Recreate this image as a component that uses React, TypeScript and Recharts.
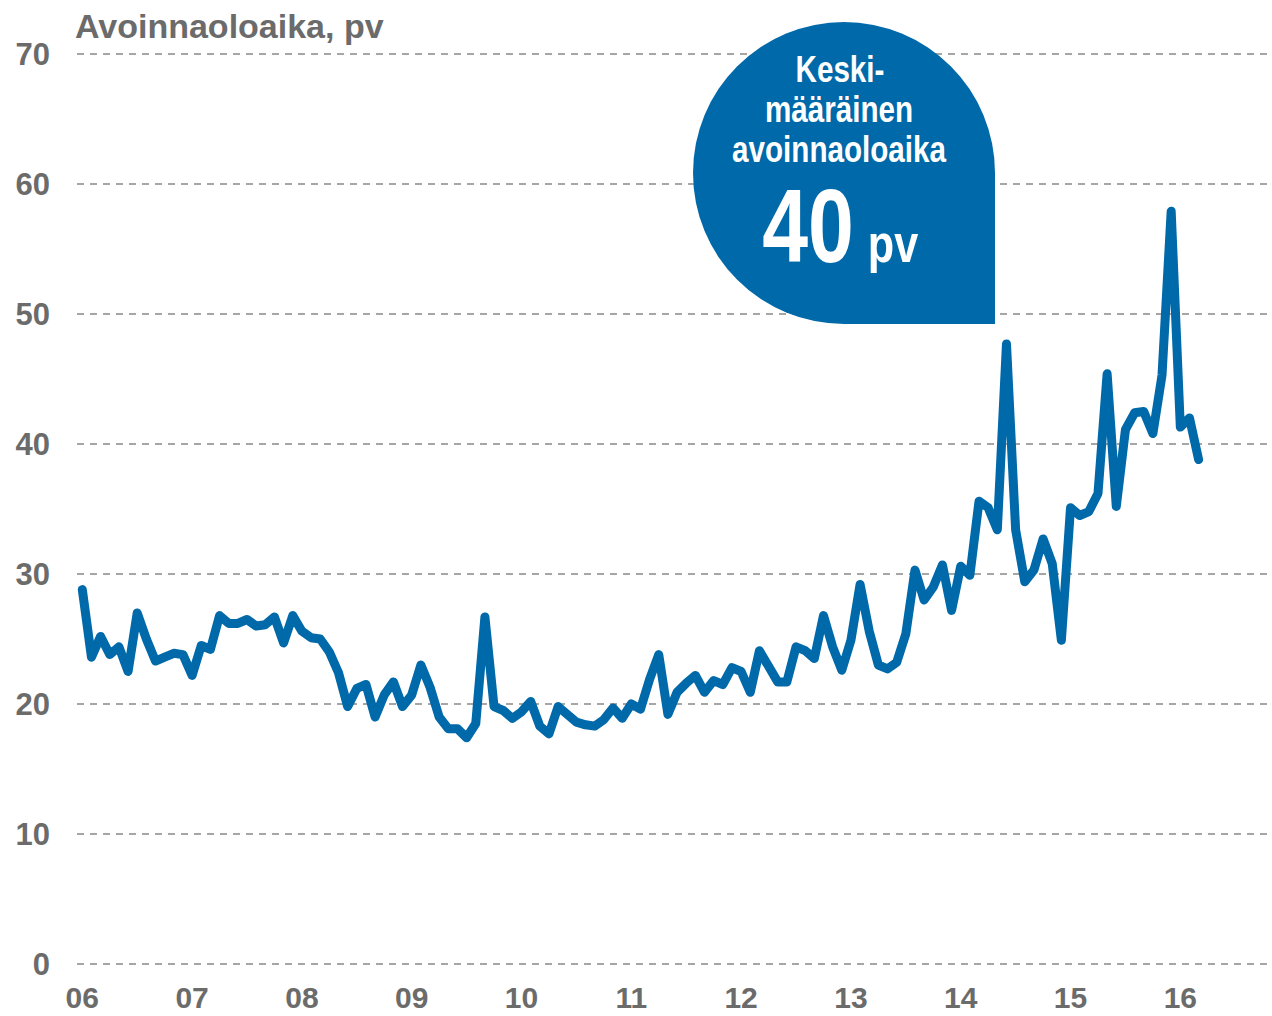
import React from "react";
import { CartesianGrid, Line, LineChart, XAxis, YAxis } from "recharts";

// monthly average open time (days), Jan 2006 - Mar 2016
const y2006 = [28.8, 23.6, 25.2, 23.8, 24.4, 22.5, 27.0, 25.0, 23.3, 23.6, 23.9, 23.8];
const y2007 = [22.2, 24.5, 24.2, 26.8, 26.2, 26.2, 26.5, 26.0, 26.1, 26.7, 24.7, 26.8];
const y2008 = [25.6, 25.1, 25.0, 24.0, 22.4, 19.8, 21.2, 21.5, 19.0, 20.7, 21.7, 19.8];
const y2009 = [20.7, 23.0, 21.3, 19.0, 18.1, 18.1, 17.4, 18.5, 26.7, 19.8, 19.5, 18.9];
const y2010 = [19.4, 20.2, 18.3, 17.7, 19.8, 19.2, 18.6, 18.4, 18.3, 18.8, 19.7, 18.9];
const y2011 = [20.0, 19.6, 21.9, 23.8, 19.2, 20.9, 21.6, 22.2, 20.9, 21.8, 21.5, 22.8];
const y2012 = [22.5, 20.9, 24.1, 22.9, 21.7, 21.7, 24.4, 24.1, 23.5, 26.8, 24.4, 22.6];
const y2013 = [24.9, 29.2, 25.6, 23.0, 22.7, 23.2, 25.4, 30.3, 28.0, 29.0, 30.7, 27.2];
const y2014 = [30.6, 29.9, 35.6, 35.1, 33.4, 47.7, 33.4, 29.4, 30.3, 32.7, 30.8, 24.9];
const y2015 = [35.1, 34.5, 34.8, 36.2, 45.4, 35.2, 41.1, 42.4, 42.5, 40.8, 45.3, 57.9];
const y2016 = [41.3, 42.0, 38.8];

const yearLabels = ["06", "07", "08", "09", "10", "11", "12", "13", "14", "15", "16"];
const yTicks = [0, 10, 20, 30, 40, 50, 60, 70];

const values = [
    ...y2006, ...y2007, ...y2008, ...y2009, ...y2010, ...y2011,
    ...y2012, ...y2013, ...y2014, ...y2015, ...y2016,
];
const data = values.map((v, i) => ({ i, v }));
const xTicks = yearLabels.map((_, k) => k * 12);

const BLUE = "#0069a9";
const GREY = "#6b6b6b";
const FONT = "'Liberation Sans', Arial, sans-serif";

if (typeof document !== "undefined") document.body.style.margin = "0";

export default function App() {
    return (
        <div style={{ position: "relative", width: 1272, height: 1016, background: "#fff" }}>
            <LineChart width={1272} height={1016} data={data} margin={{ top: 54, right: 2, bottom: 0, left: 0 }}>
                <CartesianGrid vertical={false} stroke="#a6a6a6" strokeWidth={2} strokeDasharray="7 6" />
                <XAxis
                    dataKey="i"
                    type="number"
                    domain={[-0.58, 129.8]}
                    ticks={xTicks}
                    tickFormatter={(i: number) => yearLabels[i / 12]}
                    axisLine={false}
                    tickLine={false}
                    tickSize={0}
                    tickMargin={23}
                    height={52}
                    tick={{ fill: GREY, fontSize: 30, fontWeight: 700, fontFamily: FONT }}
                />
                <YAxis
                    type="number"
                    domain={[0, 70]}
                    ticks={yTicks}
                    axisLine={false}
                    tickLine={false}
                    tickSize={0}
                    tickMargin={27}
                    width={77}
                    tick={{ fill: GREY, fontSize: 31, fontWeight: 700, fontFamily: FONT }}
                />
                <Line
                    dataKey="v"
                    type="linear"
                    stroke={BLUE}
                    strokeWidth={9}
                    strokeLinejoin="round"
                    strokeLinecap="round"
                    dot={false}
                    isAnimationActive={false}
                />
            </LineChart>

            {/* title + callout bubble */}
            <svg width={1272} height={1016} style={{ position: "absolute", left: 0, top: 0, pointerEvents: "none" }}>
                <text x={75} y={38} fill={GREY} fontSize={34} fontWeight={700} fontFamily={FONT}>
                    Avoinnaoloaika, pv
                </text>
                <path
                    d="M 995 173 L 995 324 L 844 324 A 151 151 0 1 1 995 173 Z"
                    fill={BLUE}
                />
                <g fill="#fff" fontWeight={700} fontFamily={FONT} textAnchor="middle">
                    <text transform="translate(840,82) scale(0.8,1)" fontSize={37}>Keski-</text>
                    <text transform="translate(839,122) scale(0.8,1)" fontSize={37}>määräinen</text>
                    <text transform="translate(839,162) scale(0.8,1)" fontSize={37}>avoinnaoloaika</text>
                    <text transform="translate(808,262) scale(0.8,1)" fontSize={103}>40</text>
                    <text transform="translate(893,262) scale(0.8,1)" fontSize={54}>pv</text>
                </g>
            </svg>
        </div>
    );
}
